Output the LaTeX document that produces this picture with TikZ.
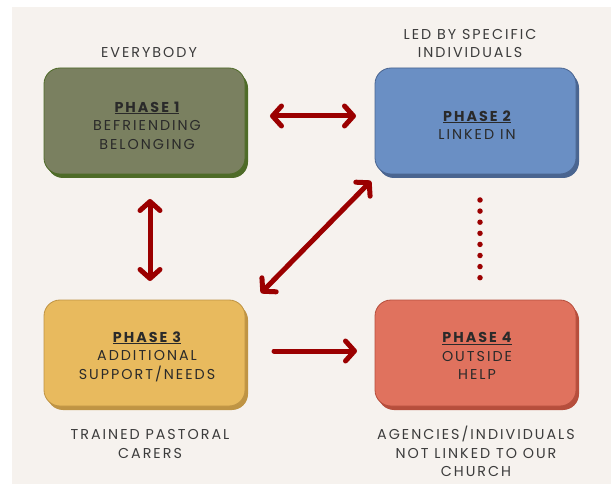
\documentclass[tikz,border=0pt]{standalone}
\usepackage{fontspec}
\setmainfont{Poppins}[LetterSpace=14]
\usetikzlibrary{arrows.meta}
\definecolor{bgc}{HTML}{F6F2EE}
\definecolor{arr}{HTML}{9B0000}
\definecolor{g1}{HTML}{7A8060}\definecolor{g2}{HTML}{4E6B28}
\definecolor{b1}{HTML}{6A8FC4}\definecolor{b2}{HTML}{4A6590}
\definecolor{y1}{HTML}{E8BA5E}\definecolor{y2}{HTML}{BF9444}
\definecolor{r1}{HTML}{E0725E}\definecolor{r2}{HTML}{B64E3C}
\definecolor{txt}{HTML}{2A2A2A}
\definecolor{lbl}{HTML}{3C3C3C}
\begin{document}
\begin{tikzpicture}[x=1pt,y=-1pt,
  phasebox/.style={rounded corners=16pt, minimum width=201pt, minimum height=106pt, inner sep=0pt, line width=0.8pt},
  shadowbox/.style={rounded corners=16pt, minimum width=201pt, minimum height=106pt, inner sep=0pt},
  boxtext/.style={align=center, text=txt, font=\fontsize{14.3}{18.6}\selectfont, inner sep=0pt},
  labeltext/.style={align=center, text=lbl, font=\fontsize{14.3}{18.3}\selectfont, inner sep=0pt},
  bigarrow/.style={arr, line width=5pt, line cap=round, line join=round},
  tip/.tip={Straight Barb[length=9pt, width=20pt, round]},
  dots/.style={arr, line width=5.5pt, line cap=round, dash pattern=on 0pt off 11.1pt}
]
\useasboundingbox (0,0) rectangle (611,484);
\fill[bgc] (12,7) rectangle (611,484);

% shadows
\node[shadowbox, fill=g2] (s1) at (147.5,125) {};
\node[shadowbox, fill=b2] (s2) at (478.5,125) {};
\node[shadowbox, fill=y2] (s3) at (147.5,357) {};
\node[shadowbox, fill=r2] (s4) at (478.5,357) {};
% faces
\node[phasebox, fill=g1, draw=g2] (p1) at (144.5,121) {};
\node[phasebox, fill=b1, draw=b2] (p2) at (475.5,121) {};
\node[phasebox, fill=y1, draw=y2] (p3) at (144.5,353) {};
\node[phasebox, fill=r1, draw=r2] (p4) at (475.5,353) {};

\node[boxtext] (t1) at (147,125.5) {\textbf{\underline{PHASE 1}}\\BEFRIENDING\\BELONGING};
\node[boxtext] (t2) at (477,125) {\textbf{\underline{PHASE 2}}\\LINKED IN};
\node[boxtext] (t3) at (147,356.5) {\textbf{\underline{PHASE 3}}\\ADDITIONAL\\SUPPORT/NEEDS};
\node[boxtext] (t4) at (477,356) {\textbf{\underline{PHASE 4}}\\OUTSIDE\\HELP};

\node[labeltext] (l1) at (149,52.5) {EVERYBODY};
\node[labeltext] (l2) at (470,43.5) {LED BY SPECIFIC\\INDIVIDUALS};
\node[labeltext] (l3) at (150,444) {TRAINED PASTORAL\\CARERS};
\node[labeltext] (l4) at (476,451.5) {AGENCIES/INDIVIDUALS\\NOT LINKED TO OUR\\CHURCH};

% connector end points
\coordinate (a1) at (270,116); \coordinate (a2) at (356,116);
\coordinate (b1) at (150,199); \coordinate (b2) at (150,281);
\coordinate (c1) at (371,181); \coordinate (c2) at (261,293);
\coordinate (d1) at (274,351); \coordinate (d2) at (357,351);
\coordinate (e1) at (480,200); \coordinate (e2) at (480,280);

\draw[bigarrow, {tip}-{tip}] (a1) -- (a2);
\draw[bigarrow, {tip}-{tip}] (b1) -- (b2);
\draw[bigarrow, {tip}-{tip}] (c1) -- (c2);
\draw[bigarrow, -{tip}] (d1) -- (d2);
\draw[dots] (e1) -- (e2);
\end{tikzpicture}
\end{document}
